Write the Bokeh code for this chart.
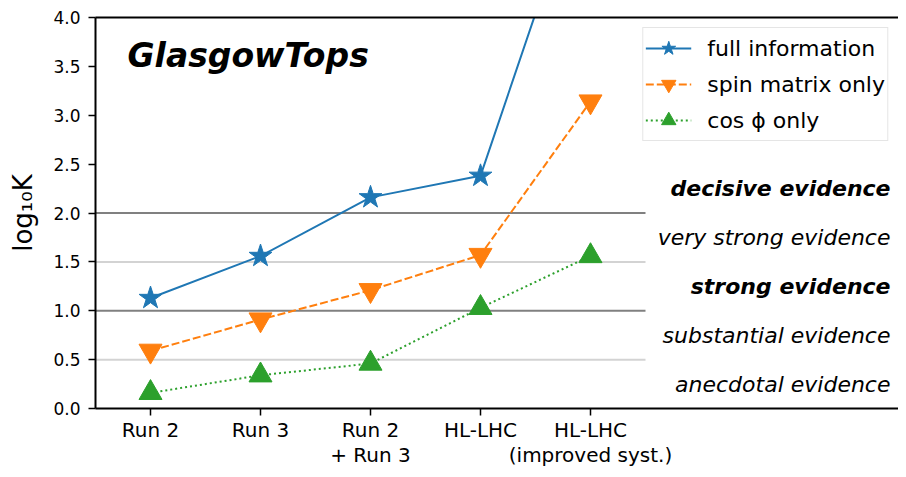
from bokeh.plotting import figure
from bokeh.models import (Range1d, FixedTicker, LinearAxis, Legend, LegendItem,
                          PrintfTickFormatter)
from bokeh.core.properties import value
from bokeh.embed import file_html
from bokeh.resources import INLINE

# ---------------- data ----------------
categories = ["Run 2", "Run 3", "Run 2\n+ Run 3", "HL-LHC", "HL-LHC\n(improved syst.)"]
cat_pos = [0, 1, 2, 3, 4]
full_info = [1.13, 1.56, 2.16, 2.38, 5.70]
spin_matrix = [0.59, 0.91, 1.21, 1.57, 3.14]
cos_phi = [0.16, 0.34, 0.46, 1.03, 1.56]
series_labels = ["full information", "spin matrix only", "cos ϕ only"]

dark_levels = [1.0, 2.0]
light_levels = [0.5, 1.5]
evidence_bold = ["decisive evidence", "strong evidence"]
evidence_bold_y = [2.25, 1.25]
evidence_ital = ["very strong evidence", "substantial evidence", "anecdotal evidence"]
evidence_ital_y = [1.75, 0.75, 0.25]
y_ticks = [0.0, 0.5, 1.0, 1.5, 2.0, 2.5, 3.0, 3.5, 4.0]

FONT = "DejaVu Sans"
W, H = 898, 469
left_b, top_b, bottom_b = 95, 17, 51
px_per_cat = 110.0
x0 = -0.5
x1 = x0 + (W - left_b) / px_per_cat

p = figure(width=W, height=H, output_backend="svg", toolbar_location=None,
           x_range=Range1d(x0, x1), y_range=Range1d(0, 4.0),
           min_border_left=left_b, min_border_right=0, min_border_top=top_b,
           min_border_bottom=bottom_b)
p.outline_line_color = None
p.xgrid.visible = False
p.ygrid.visible = False
p.background_fill_color = "white"
p.border_fill_color = "white"

# reference lines
p.segment(x0=[-0.5] * len(light_levels), x1=[4.5] * len(light_levels),
          y0=light_levels, y1=light_levels, line_color="#d3d3d3", line_width=2)
p.segment(x0=[-0.5] * len(dark_levels), x1=[4.5] * len(dark_levels),
          y0=dark_levels, y1=dark_levels, line_color="#808080", line_width=2)

# series
blue, orange, green = "#1f77b4", "#ff7f0e", "#2ca02c"
l1 = p.line(cat_pos, full_info, line_color=blue, line_width=2)
s1 = p.scatter(cat_pos, full_info, marker="star", size=24, fill_color=blue, line_color=blue)
l2 = p.line(cat_pos, spin_matrix, line_color=orange, line_width=2, line_dash="8 3")
s2 = p.scatter(cat_pos, spin_matrix, marker="inverted_triangle", size=23,
               fill_color=orange, line_color=orange)
l3 = p.line(cat_pos, cos_phi, line_color=green, line_width=2, line_dash="2 3")
s3 = p.scatter(cat_pos, cos_phi, marker="triangle", size=23, fill_color=green, line_color=green)

# evidence texts
txt_x = x0 + (890 - 95) / px_per_cat
p.text(x=[txt_x] * len(evidence_bold), y=evidence_bold_y, text=evidence_bold,
       text_font=value(FONT), text_font_size="22px", text_font_style="bold italic",
       text_align="right", text_baseline="middle", text_color="black")
p.text(x=[txt_x] * len(evidence_ital), y=evidence_ital_y, text=evidence_ital,
       text_font=value(FONT), text_font_size="22px", text_font_style="italic",
       text_align="right", text_baseline="middle", text_color="black")

# title text inside plot
p.text(x=[x0 + (127 - 95) / px_per_cat], y=[3.61], text=["GlasgowTops"],
       text_font=value(FONT), text_font_size="33px", text_font_style="bold italic",
       text_align="left", text_baseline="middle", text_color="black")

# axes
for ax in (p.xaxis[0], p.yaxis[0]):
    ax.axis_line_width = 2
    ax.major_tick_line_width = 1.5
    ax.major_tick_out = 7
    ax.major_tick_in = 0
    ax.minor_tick_out = 0
    ax.minor_tick_in = 0
    ax.major_label_text_font = FONT
    ax.major_label_text_color = "black"
    ax.axis_line_color = "black"
    ax.major_tick_line_color = "black"

p.xaxis.ticker = FixedTicker(ticks=cat_pos)
p.xaxis.major_label_overrides = {float(k): v for k, v in zip(cat_pos, categories)}
p.xaxis.major_label_text_font_size = "20px"
p.xaxis.major_label_standoff = 2
p.xaxis.major_label_text_line_height = 1.05

p.yaxis.ticker = FixedTicker(ticks=y_ticks)
p.yaxis.formatter = PrintfTickFormatter(format="%.1f")
p.yaxis.major_label_text_font_size = "17px"
p.yaxis.major_label_standoff = 8
p.yaxis.axis_label = "log₁₀K"
p.yaxis.axis_label_text_font = FONT
p.yaxis.axis_label_text_font_size = "26px"
p.yaxis.axis_label_text_font_style = "normal"
p.yaxis.axis_label_text_color = "black"
p.yaxis.axis_label_standoff = 12

top_axis = LinearAxis(ticker=FixedTicker(ticks=[]), axis_line_width=2,
                      axis_line_color="black", major_tick_out=0, major_tick_in=0,
                      minor_tick_out=0, minor_tick_in=0,
                      major_label_text_font_size="0px")
p.add_layout(top_axis, "above")

legend = Legend(items=[
    LegendItem(label=series_labels[0], renderers=[l1, s1]),
    LegendItem(label=series_labels[1], renderers=[l2, s2]),
    LegendItem(label=series_labels[2], renderers=[l3, s3]),
], location="top_right", margin=10)
legend.label_text_font = FONT
legend.label_text_font_size = "22px"
legend.label_text_color = "black"
legend.glyph_width = 46
legend.glyph_height = 36
legend.label_height = 32
legend.spacing = 0
legend.padding = 2
legend.label_standoff = 16
legend.border_line_color = "#cccccc"
legend.border_line_width = 1.5
legend.background_fill_alpha = 0.8
p.add_layout(legend)

open("out.html", "w").write(file_html(p, INLINE))
